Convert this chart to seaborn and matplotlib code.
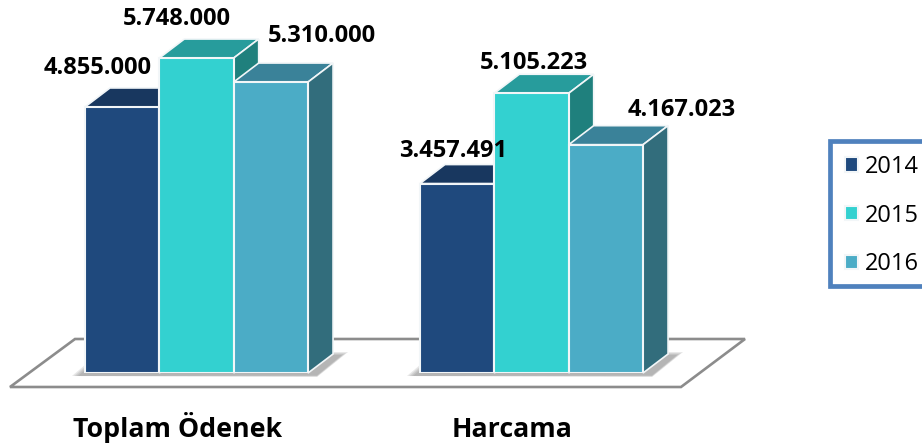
import matplotlib
matplotlib.use("Agg")
import matplotlib.pyplot as plt
from matplotlib.patches import Polygon, Rectangle
from matplotlib.transforms import Affine2D
import pandas as pd
import seaborn as sns

kalemler = ["Toplam Ödenek", "Harcama"]
yillar = ["2014", "2015", "2016"]
degerler_2014 = [4855000, 3457491]
degerler_2015 = [5748000, 5105223]
degerler_2016 = [5310000, 4167023]
etiketler_2014 = ["4.855.000", "3.457.491"]
etiketler_2015 = ["5.748.000", "5.105.223"]
etiketler_2016 = ["5.310.000", "4.167.023"]

renk_on = ["#1F497D", "#33D1D0", "#4BACC6"]
renk_ust = ["#18375F", "#279C9C", "#3A8299"]
renk_yan = ["#18375F", "#1F807D", "#326D7C"]

W, H = 922, 448
DX, DY = 25, 19  # depth of the fake 3d boxes, px

sns.set_theme(style="white")
plt.rcParams["font.family"] = ["Open Sans", "DejaVu Sans"]

df = pd.DataFrame({
    "kalem": kalemler * 3,
    "yil": [y for y in yillar for _ in kalemler],
    "deger": degerler_2014 + degerler_2015 + degerler_2016,
})

fig = plt.figure(figsize=(W / 100, H / 100), dpi=100)
ax = fig.add_axes([29 / W, 1 - 373 / H, 670 / W, 372.6 / H])
ax.patch.set_visible(False)

sns.barplot(data=df, x="kalem", y="deger", hue="yil", palette=renk_on, saturation=1, width=0.666,
            gap=0, edgecolor="#F2F6F8", linewidth=1.5, ax=ax)
ax.set_xlim(-0.5, 1.5)
ax.set_ylim(0, 6800000)
ax.set_xlabel("")
ax.set_ylabel("")
ax.set_yticks([])
sns.despine(ax=ax, left=True, bottom=True)

# pixel coordinates, origin top left like the picture
px = Affine2D().scale(1, -1).translate(0, H)


def to_px(x, y):
    return px.inverted().transform(ax.transData.transform((x, y)))


# floor
zemin = Polygon([(10, 387), (75, 339), (745, 339), (681, 387)], closed=True, facecolor="white",
                edgecolor="#8C8C8C", linewidth=1.9, joinstyle="miter", transform=px, zorder=-3)
fig.add_artist(zemin)

# boxes: side and top faces come from the seaborn bars
for i, cont in enumerate(ax.containers):
    for bar in cont:
        x0, y0 = to_px(bar.get_x(), bar.get_height())
        x1, y1 = to_px(bar.get_x() + bar.get_width(), 0)
        bar.set_zorder(3 + i)
        ax.add_patch(Polygon([(x0, y0), (x0 + DX, y0 - DY), (x1 + DX, y0 - DY), (x1, y0)],
                             facecolor=renk_ust[i], edgecolor="#F2F6F8", linewidth=1.2,
                             transform=px, zorder=2.5 + i, clip_on=False))
        ax.add_patch(Polygon([(x1, y0), (x1 + DX, y0 - DY), (x1 + DX, y1 - DY), (x1, y1)],
                             facecolor=renk_yan[i], edgecolor="#F2F6F8", linewidth=1.2,
                             transform=px, zorder=2.5 + i, clip_on=False))

# soft shadow under each group
for k in range(len(kalemler)):
    sol = to_px(ax.containers[0][k].get_x(), 0)[0]
    son = ax.containers[2][k]
    sag = to_px(son.get_x() + son.get_width(), 0)[0]
    for g in [0, 2, 4, 6]:
        fig.add_artist(Polygon([(sol - 13 + g, 376), (sol + g, 365), (sag, 365), (sag + 25, 352 + g / 2),
                                (sag + 40 - g, 352 + g / 2), (sag + 9, 377 - g / 4)],
                               facecolor="#707070", edgecolor="none", alpha=0.16,
                               transform=px, zorder=-2))

# value labels, offsets in px from the top centre of the front face
etiketler = [etiketler_2014, etiketler_2015, etiketler_2016]
kaymalar = [[(-25, 39), (-4, 33)], [(-20, 39), (2, 30)], [(51, 46), (76, 35)]]
for i, cont in enumerate(ax.containers):
    for k, bar in enumerate(cont):
        ax.annotate(etiketler[i][k], (bar.get_x() + bar.get_width() / 2, bar.get_height()),
                    xytext=kaymalar[i][k], textcoords="offset pixels", ha="center", va="center",
                    fontsize=17, fontweight="bold", color="black", zorder=10, annotation_clip=False)

# category labels sit on a common baseline
ax.tick_params(axis="x", length=0, pad=46)
ax.set_xticks(range(len(kalemler)))
ax.set_xticklabels(kalemler, fontsize=19.3, fontweight="bold", color="black", va="baseline")
for lbl in ax.get_xticklabels():
    lbl.set_transform(lbl.get_transform() + Affine2D().translate(-19, 0))

# legend box runs past the right edge of the picture
fig.add_artist(Rectangle((830, 141), 130, 145, facecolor="white", edgecolor="#4F81BD", linewidth=3.4,
                         transform=px, zorder=-1))
handles, labels = ax.get_legend_handles_labels()
ax.legend(handles, labels, loc="upper left", bbox_to_anchor=(845, 155), bbox_transform=px,
          borderaxespad=0, borderpad=0, handlelength=0.56, handleheight=0.56,
          handletextpad=0.3, labelspacing=1.04, prop={"size": 17}, labelcolor="black",
          frameon=False)

fig.savefig("out.png", dpi=100)
